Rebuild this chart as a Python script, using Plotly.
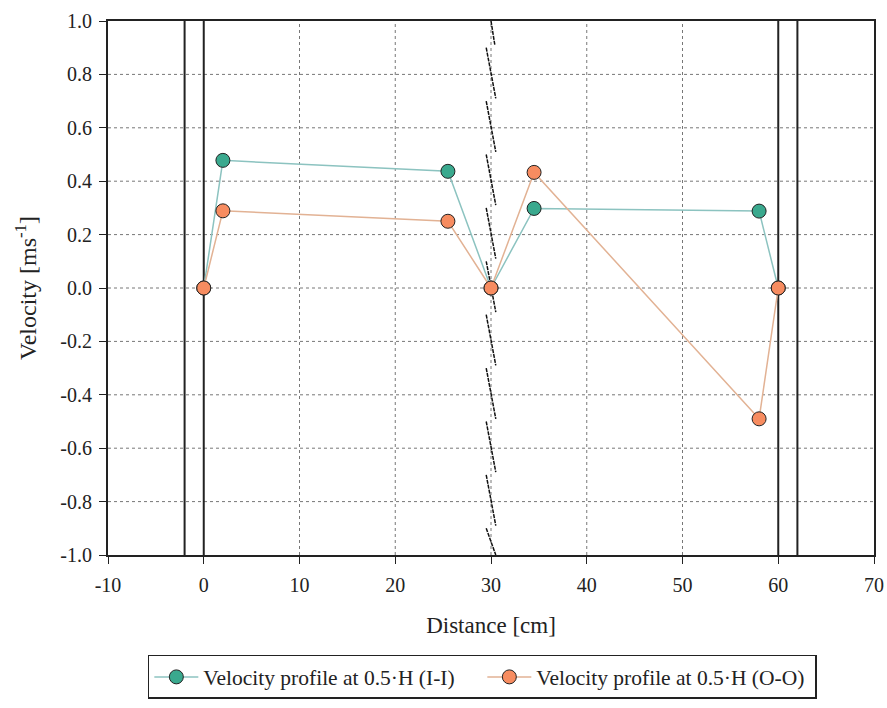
import plotly.graph_objects as go

# Data
dist_ii = [0, 2, 25.5, 30, 34.5, 58, 60]
vel_ii = [0, 0.478, 0.437, 0, 0.298, 0.288, 0]
dist_oo = [0, 2, 25.5, 30, 34.5, 58, 60]
vel_oo = [0, 0.289, 0.250, 0, 0.433, -0.49, 0]
wall_x = [-2, 0, 60, 62]
mid_x = 30
x_ticks = [-10, 0, 10, 20, 30, 40, 50, 60, 70]
y_ticks = [-1.0, -0.8, -0.6, -0.4, -0.2, 0.0, 0.2, 0.4, 0.6, 0.8, 1.0]

font = "Liberation Serif, Times New Roman, serif"

fig = go.Figure()

# dotted grid lines
for gx in [10, 20, 30, 40, 50]:
    fig.add_shape(type="line", x0=gx, x1=gx, y0=-1, y1=1, xref="x", yref="y",
                  line=dict(color="#777", width=1, dash="dot"), layer="below")
for gy in [-0.8, -0.6, -0.4, -0.2, 0.0, 0.2, 0.4, 0.6, 0.8]:
    fig.add_shape(type="line", x0=-10, x1=70, y0=gy, y1=gy, xref="x", yref="y",
                  line=dict(color="#777", width=1, dash="dot"), layer="below")

# walls
for wx in wall_x:
    fig.add_shape(type="line", x0=wx, x1=wx, y0=-1, y1=1, xref="x", yref="y",
                  line=dict(color="#222", width=2), layer="below")

# broken middle line: slanted dashes
seg_tops = [0.9, 0.7, 0.5, 0.3, 0.1, -0.1, -0.3, -0.5, -0.7, -0.9]
for t in seg_tops:
    fig.add_shape(type="line", x0=mid_x - 0.5, x1=mid_x + 0.5, y0=t,
                  y1=max(t - 0.19, -1.0), xref="x", yref="y",
                  line=dict(color="#111", width=1.5, dash="4px,1px"), layer="below")
fig.add_shape(type="line", x0=mid_x, x1=mid_x + 0.4, y0=1.0, y1=0.91,
              xref="x", yref="y", line=dict(color="#111", width=1.5, dash="4px,1px"), layer="below")

fig.add_trace(go.Scatter(
    x=dist_ii, y=vel_ii, mode="lines+markers",
    name="Velocity profile at 0.5·H (I-I)",
    line=dict(color="#8cc3c0", width=1.5),
    marker=dict(color="#3aa98e", size=14, line=dict(color="#222", width=1)),
))
fig.add_trace(go.Scatter(
    x=dist_oo, y=vel_oo, mode="lines+markers",
    name="Velocity profile at 0.5·H (O-O)",
    line=dict(color="#e2b294", width=1.5),
    marker=dict(color="#f78c60", size=14, line=dict(color="#222", width=1)),
))

fig.update_layout(
    width=887, height=708,
    margin=dict(l=108, r=13, t=21, b=153),
    paper_bgcolor="white", plot_bgcolor="white",
    font=dict(family=font, size=20, color="#222"),
    showlegend=True,
    legend=dict(orientation="h", x=0.052, xanchor="left",
                yref="container", y=0.075, yanchor="top",
                bordercolor="#222", borderwidth=1.5, font=dict(family=font, size=21.5),
                itemwidth=44, entrywidth=274, tracegroupgap=0),
)
fig.update_xaxes(
    range=[-10, 70], tickvals=x_ticks, ticktext=[str(v) for v in x_ticks],
    ticks="outside", ticklen=7, tickcolor="#222", automargin=False,
    ticklabelstandoff=4,
    showgrid=False, zeroline=False, showline=True, linecolor="#222", linewidth=2,
    mirror=True, title=dict(text="Distance [cm]", font=dict(family=font, size=23), standoff=22),
    tickfont=dict(family=font, size=20),
)
fig.update_yaxes(
    range=[-1, 1], tickvals=y_ticks, ticktext=["%.1f" % v for v in y_ticks],
    ticks="outside", ticklen=7, automargin=False, ticklabelstandoff=3,
    tickcolor="#222", showgrid=False, zeroline=False, showline=True, linecolor="#222",
    linewidth=2, mirror=True,
    title=dict(text="Velocity [ms<sup>-1</sup>]", font=dict(family=font, size=24), standoff=17),
    tickfont=dict(family=font, size=20),
)

fig.write_html("out.html")
